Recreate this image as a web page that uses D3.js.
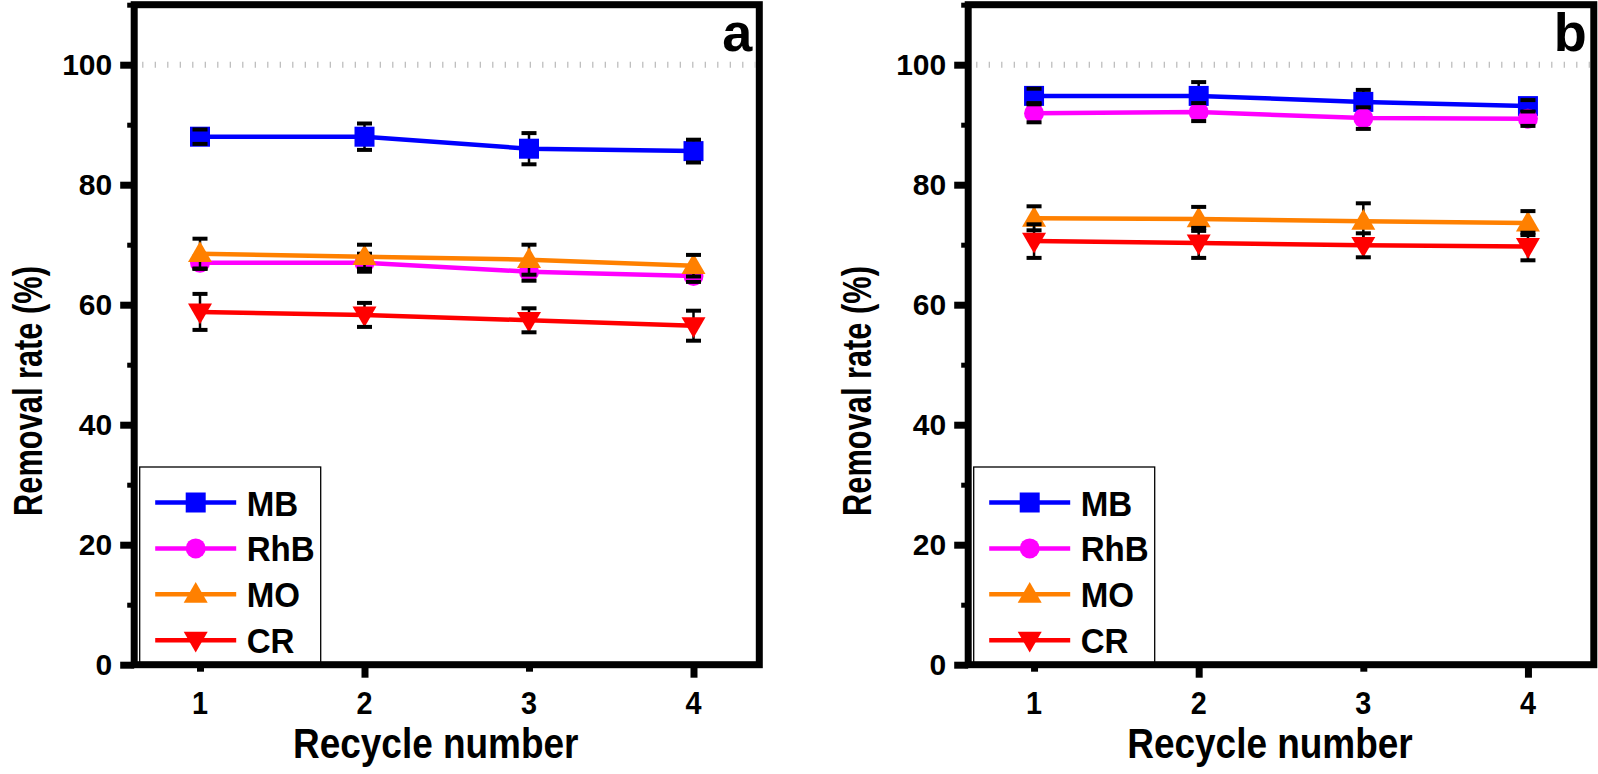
<!DOCTYPE html>
<html><head><meta charset="utf-8">
<script src="https://cdn.jsdelivr.net/npm/d3@7"></script>
<style>body{margin:0;background:#fff}svg{display:block}</style>
</head><body>
<svg id="c" width="1598" height="774"></svg>
<script>
const cycles = [1, 2, 3, 4];
const seriesNames = ["MB", "RhB", "MO", "CR"];
const seriesColors = ["#0000ff", "#ff00ff", "#ff8000", "#ff0000"];
const seriesShapes = ["square", "circle", "triangle", "triangleDown"];
// panel a
const aMB  = [88.0, 88.0, 86.0, 85.6];
const aRhB = [67.0, 67.0, 65.5, 64.8];
const aMO  = [68.5, 68.0, 67.5, 66.5];
const aCR  = [58.8, 58.3, 57.4, 56.5];
const aMBerr  = [1.2, 2.2, 2.6, 1.9];
const aRhBerr = [1.0, 1.5, 1.5, 1.0];
const aMOerr  = [2.5, 2.0, 2.5, 1.8];
const aCRerr  = [3.0, 2.0, 2.0, 2.5];
// panel b
const bMB  = [94.8, 94.8, 93.8, 93.1];
const bRhB = [91.9, 92.1, 91.1, 91.0];
const bMO  = [74.4, 74.3, 73.9, 73.6];
const bCR  = [70.6, 70.3, 69.9, 69.7];
const bMBerr  = [1.2, 2.3, 2.0, 1.0];
const bRhBerr = [1.5, 1.5, 1.8, 1.2];
const bMOerr  = [2.0, 2.0, 3.0, 2.0];
const bCRerr  = [2.8, 2.5, 2.0, 2.3];
const yMajorTicks = [0, 20, 40, 60, 80, 100];
const yMinorTicks = [10, 30, 50, 70, 90, 110];
const xLongTicks = [2, 4];
const xShortTicks = [1, 3];
const refLine = 100;

const svg = d3.select("#c");
const plotTop = 4.7, plotBottom = 664.7;
const FONT = "Liberation Sans, Arial, sans-serif";

function markerPath(shape, s) {
  if (shape === "square") return d3.symbol(d3.symbolSquare, s*s)();
  if (shape === "circle") return d3.symbol(d3.symbolCircle, Math.PI*(s/2)*(s/2))();
  const w = s + 4, h = s;
  if (shape === "triangle") return `M0,${-h*0.62}L${w/2},${h*0.42}L${-w/2},${h*0.42}Z`;
  return `M0,${h*0.62}L${w/2},${-h*0.42}L${-w/2},${-h*0.42}Z`;
}

function drawPanel(left, right, vals, errs, letter, titleX) {
  const x = d3.scaleLinear().domain([0.6, 4.4]).range([left, right]);
  const y = d3.scaleLinear().domain([0, 110]).range([plotBottom, plotTop]);
  const g = svg.append("g");

  g.append("line").attr("x1", left + 8).attr("x2", right - 4)
    .attr("y1", y(refLine)).attr("y2", y(refLine))
    .attr("stroke", "#b8b8b8").attr("stroke-width", 6).attr("stroke-dasharray", "1.2 11.3");

  const yMaj = d3.axisLeft(y).tickValues(yMajorTicks).tickSize(14).tickPadding(8).tickFormat(d3.format("d"));
  const ya = g.append("g").attr("transform", `translate(${left},0)`).call(yMaj);
  ya.select(".domain").remove();
  ya.selectAll("line").attr("stroke", "#000").attr("stroke-width", 7);
  ya.selectAll("text").attr("font-family", FONT).attr("font-weight", "bold").attr("font-size", 30).attr("fill", "#000").attr("dy", "0.34em");
  const yMin = d3.axisLeft(y).tickValues(yMinorTicks).tickSize(7).tickFormat("");
  const ym = g.append("g").attr("transform", `translate(${left},0)`).call(yMin);
  ym.select(".domain").remove();
  ym.selectAll("line").attr("stroke", "#000").attr("stroke-width", 5);

  const xL = d3.axisBottom(x).tickValues(xLongTicks).tickSize(13).tickFormat("");
  const xa = g.append("g").attr("transform", `translate(0,${plotBottom})`).call(xL);
  xa.select(".domain").remove();
  xa.selectAll("line").attr("stroke", "#000").attr("stroke-width", 7);
  const xS = d3.axisBottom(x).tickValues(xShortTicks).tickSize(7).tickFormat("");
  const xs = g.append("g").attr("transform", `translate(0,${plotBottom})`).call(xS);
  xs.select(".domain").remove();
  xs.selectAll("line").attr("stroke", "#000").attr("stroke-width", 7);
  g.selectAll(null).data(cycles).join("text")
    .attr("transform", d => `translate(${x(d)},${plotBottom + 49}) scale(0.9,1)`)
    .attr("text-anchor", "middle").text(d => d)
    .attr("font-family", FONT).attr("font-weight", "bold").attr("font-size", 32).attr("fill", "#000");

  vals.forEach((v, i) => {
    const e = errs[i];
    const sg = g.append("g");
    sg.selectAll("line.stem").data(cycles).join("line")
      .attr("x1", d => x(d)).attr("x2", d => x(d))
      .attr("y1", (d, k) => y(v[k] + e[k])).attr("y2", (d, k) => y(v[k] - e[k]))
      .attr("stroke", "#000").attr("stroke-width", 2.5);
    sg.append("path").datum(cycles)
      .attr("d", d3.line().x(d => x(d)).y((d, k) => y(v[k])))
      .attr("fill", "none").attr("stroke", seriesColors[i]).attr("stroke-width", 4.5);
    sg.selectAll("path.m").data(cycles).join("path")
      .attr("transform", (d, k) => `translate(${x(d)},${y(v[k])})`)
      .attr("d", markerPath(seriesShapes[i], 20))
      .attr("fill", seriesColors[i]);
    [1, -1].forEach(sgn => {
      sg.selectAll(null).data(cycles).join("line")
        .attr("x1", d => x(d) - 7.5).attr("x2", d => x(d) + 7.5)
        .attr("y1", (d, k) => y(v[k] + sgn * e[k])).attr("y2", (d, k) => y(v[k] + sgn * e[k]))
        .attr("stroke", "#000").attr("stroke-width", 4);
    });
  });

  const lx = left + 5.5, ly = 467, lw = 181, lh = plotBottom - ly;
  g.append("rect").attr("x", lx).attr("y", ly).attr("width", lw).attr("height", lh)
    .attr("fill", "#fff").attr("stroke", "#000").attr("stroke-width", 1.3);
  seriesNames.forEach((n, i) => {
    const cy = 502.5 + i * 45.9;
    g.append("line").attr("x1", left + 21).attr("x2", left + 102).attr("y1", cy).attr("y2", cy)
      .attr("stroke", seriesColors[i]).attr("stroke-width", 4.5);
    g.append("path").attr("transform", `translate(${left + 61.5},${cy})`)
      .attr("d", markerPath(seriesShapes[i], 20)).attr("fill", seriesColors[i]);
    g.append("text").attr("transform", `translate(${left + 112.5},${cy + 13}) scale(0.92,1)`).text(n)
      .attr("font-family", FONT).attr("font-weight", "bold").attr("font-size", 36).attr("fill", "#000");
  });

  g.append("rect").attr("x", left).attr("y", plotTop).attr("width", right - left).attr("height", plotBottom - plotTop)
    .attr("fill", "none").attr("stroke", "#000").attr("stroke-width", 7);

  g.append("text").attr("x", right - 7).attr("y", 51).attr("text-anchor", "end").text(letter)
    .attr("font-family", FONT).attr("font-weight", "bold").attr("font-size", 54).attr("fill", "#000");

  g.append("text").attr("transform", `translate(${titleX},391) rotate(-90) scale(0.77,1)`)
    .attr("text-anchor", "middle").text("Removal rate (%)")
    .attr("font-family", FONT).attr("font-weight", "bold").attr("font-size", 40).attr("fill", "#000");
  g.append("text").attr("transform", `translate(${(left + right) / 2 - 11},758) scale(0.88,1)`)
    .attr("text-anchor", "middle").text("Recycle number")
    .attr("font-family", FONT).attr("font-weight", "bold").attr("font-size", 42).attr("fill", "#000");
}

drawPanel(134.2, 759.3, [aMB, aRhB, aMO, aCR], [aMBerr, aRhBerr, aMOerr, aCRerr], "a", 42);
drawPanel(968.2, 1593.8, [bMB, bRhB, bMO, bCR], [bMBerr, bRhBerr, bMOerr, bCRerr], "b", 871);
</script>
</body></html>
